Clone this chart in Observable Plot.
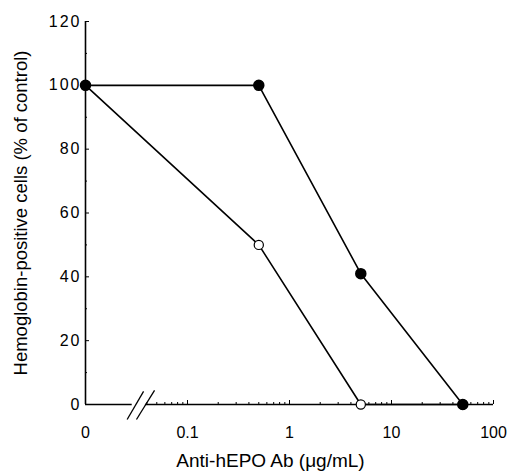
<!DOCTYPE html>
<html>
<head>
<meta charset="utf-8">
<script src="https://cdn.jsdelivr.net/npm/d3@7"></script>
<script src="https://cdn.jsdelivr.net/npm/@observablehq/plot@0.6"></script>
<style>
  body { margin: 0; background: #fff; }
  #chart svg { display: block; }
  #chart g[aria-label="y-axis tick label"] text { letter-spacing: 2px; }
</style>
</head>
<body>
<div id="chart"></div>
<script>
// ---- data ----
const concentrations = [0, 0.5, 5, 50];          // Anti-hEPO Ab (µg/mL); 0 = control, drawn left of the axis break
const filledSeries   = [100, 100, 41, 0];        // filled circles
const openSeries     = [100, 50, 0, 0];          // open circles

const xTickValues = [0, 0.1, 1, 10, 100];
const xTickLabels = ["0", "0.1", "1", "10", "100"];
const xMinorTicks = [0.04, 0.05, 0.06, 0.07, 0.08, 0.09,
                     0.2, 0.3, 0.4, 0.5, 0.6, 0.7, 0.8, 0.9,
                     2, 3, 4, 5, 6, 7, 8, 9,
                     20, 30, 40, 50, 60, 70, 80, 90];
const yTickValues = [0, 20, 40, 60, 80, 100, 120];
const yMinorTicks = [10, 30, 50, 70, 90, 110];

const xTitle = "Anti-hEPO Ab (μg/mL)";
const yTitle = "Hemoglobin-positive cells (% of control)";

// ---- axis break: the control (0) sits two decades below 1 on the log scale ----
const zeroPos = 0.01;
const pos = v => (v === 0 ? zeroPos : v);
const breakLeft = 0.0287, breakRight = 0.0387;

const filledData = concentrations.map((c, i) => ({x: pos(c), y: filledSeries[i]}));
const openData   = concentrations.map((c, i) => ({x: pos(c), y: openSeries[i]}));
const slashes = [
  {x1: 0.0256, y1: -4.7, x2: 0.0371, y2: 4.1},
  {x1: 0.0316, y1: -4.7, x2: 0.0475, y2: 4.4}
];

const font = "'Liberation Sans', Arial, Helvetica, sans-serif";

const chart = Plot.plot({
  width: 507,
  height: 472,
  marginLeft: 85,
  marginRight: 14,
  marginTop: 21,
  marginBottom: 68,
  style: {fontFamily: font, color: "#000", background: "#fff", overflow: "visible"},
  x: {type: "log", domain: [zeroPos, 100]},
  y: {type: "linear", domain: [0, 120]},
  marks: [
    // axis lines
    Plot.ruleX([zeroPos], {y1: 0, y2: 120, stroke: "#000", strokeWidth: 1.6}),
    Plot.ruleY([0], {x1: zeroPos, x2: breakLeft, stroke: "#000", strokeWidth: 1.6}),
    Plot.ruleY([0], {x1: breakRight, x2: 100, stroke: "#000", strokeWidth: 1.6}),
    Plot.link(slashes, {x1: "x1", y1: "y1", x2: "x2", y2: "y2", stroke: "#000", strokeWidth: 1.3}),
    // y axis
    Plot.axisY(yTickValues, {anchor: "left", tickSize: -4, tickPadding: 8, fontSize: 16, label: null, stroke: "#000", fill: "#000"}),
    Plot.axisY(yMinorTicks, {anchor: "left", tickSize: -2, tickFormat: () => "", label: null, stroke: "#000"}),
    // x axis
    Plot.axisX(xTickValues.map(pos), {anchor: "bottom", tickSize: -4, tickPadding: 26, fontSize: 16, label: null,
      tickFormat: d => xTickLabels[xTickValues.map(pos).indexOf(d)], stroke: "#000", fill: "#000"}),
    Plot.axisX(xMinorTicks, {anchor: "bottom", tickSize: -2, tickFormat: () => "", label: null, stroke: "#000"}),
    // series
    Plot.line(openData, {x: "x", y: "y", stroke: "#000", strokeWidth: 1.6}),
    Plot.line(filledData, {x: "x", y: "y", stroke: "#000", strokeWidth: 1.6}),
    Plot.dot(openData, {x: "x", y: "y", r: 4.6, fill: "#fff", stroke: "#000", strokeWidth: 1.2}),
    Plot.dot(filledData, {x: "x", y: "y", r: 5, fill: "#000", stroke: "#000"}),
    // titles
    Plot.text([xTitle], {frameAnchor: "bottom", dx: -19, dy: 49, lineAnchor: "top", textAnchor: "middle", fontSize: 19, fill: "#000"}),
    Plot.text([yTitle], {frameAnchor: "left", rotate: -90, dx: -64, lineAnchor: "middle", textAnchor: "middle", fontSize: 18.5, fill: "#000"})
  ]
});
document.getElementById("chart").appendChild(chart);
</script>
</body>
</html>
